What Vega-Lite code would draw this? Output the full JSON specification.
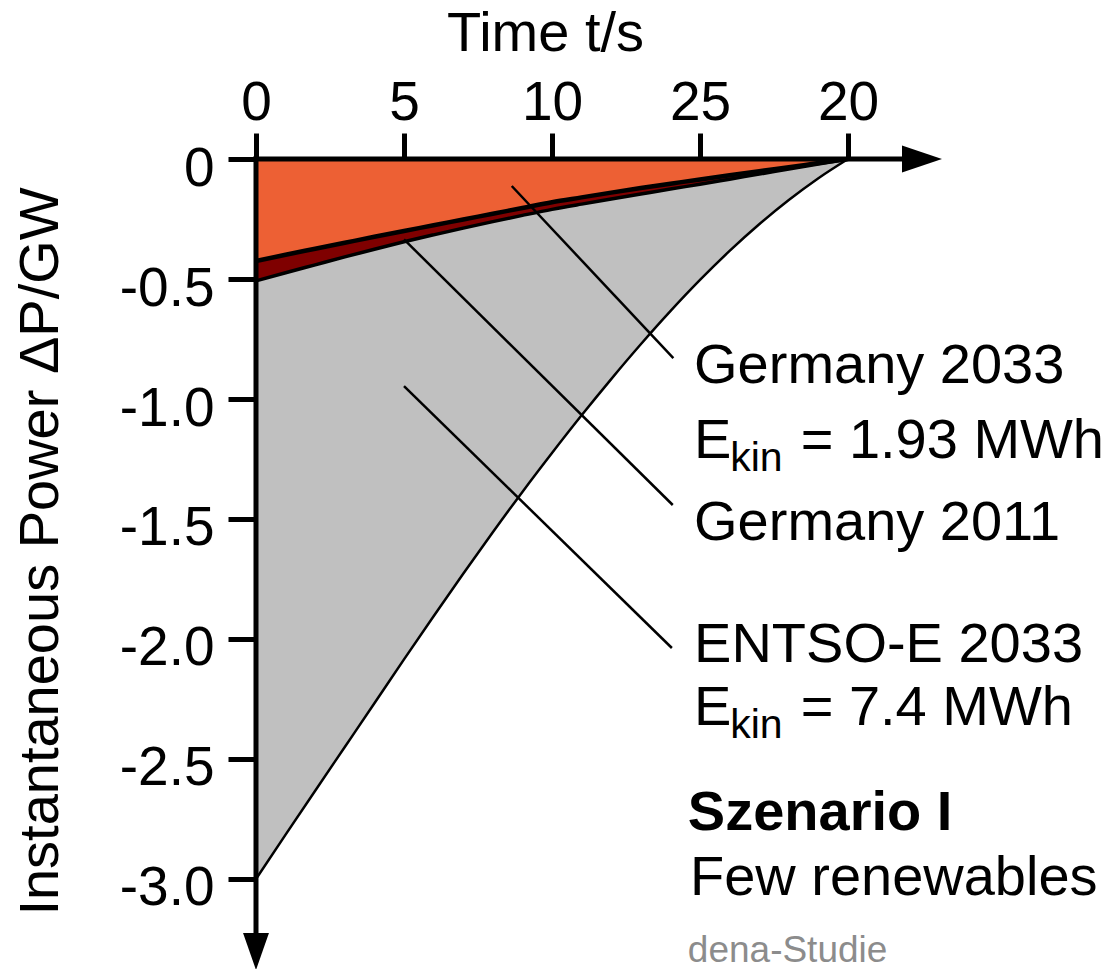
{
  "$schema": "https://vega.github.io/schema/vega-lite/v6.json",
  "width": 858.4,
  "height": 810,
  "autosize": {"type": "none"},
  "padding": {"left": 256, "top": 159, "right": 0, "bottom": 0},
  "background": "white",
  "config": {"view": {"stroke": null}, "font": "Liberation Sans"},
  "datasets": {
    "curves": [
      {"s": "ENTSO-E 2033", "t": 0, "P": -3.0}, {"s": "ENTSO-E 2033", "t": 1, "P": -2.815}, {"s": "ENTSO-E 2033", "t": 2, "P": -2.632},
      {"s": "ENTSO-E 2033", "t": 3, "P": -2.45}, {"s": "ENTSO-E 2033", "t": 4, "P": -2.268}, {"s": "ENTSO-E 2033", "t": 5, "P": -2.085},
      {"s": "ENTSO-E 2033", "t": 6, "P": -1.905}, {"s": "ENTSO-E 2033", "t": 7, "P": -1.728}, {"s": "ENTSO-E 2033", "t": 8, "P": -1.555},
      {"s": "ENTSO-E 2033", "t": 9, "P": -1.387}, {"s": "ENTSO-E 2033", "t": 10, "P": -1.225}, {"s": "ENTSO-E 2033", "t": 11, "P": -1.068},
      {"s": "ENTSO-E 2033", "t": 12, "P": -0.917}, {"s": "ENTSO-E 2033", "t": 13, "P": -0.772}, {"s": "ENTSO-E 2033", "t": 14, "P": -0.634},
      {"s": "ENTSO-E 2033", "t": 15, "P": -0.504}, {"s": "ENTSO-E 2033", "t": 16, "P": -0.383}, {"s": "ENTSO-E 2033", "t": 17, "P": -0.272},
      {"s": "ENTSO-E 2033", "t": 18, "P": -0.171}, {"s": "ENTSO-E 2033", "t": 19, "P": -0.08}, {"s": "ENTSO-E 2033", "t": 20, "P": 0},
      {"s": "Germany 2011", "t": 0, "P": -0.508}, {"s": "Germany 2011", "t": 1, "P": -0.474}, {"s": "Germany 2011", "t": 2, "P": -0.441},
      {"s": "Germany 2011", "t": 3, "P": -0.408}, {"s": "Germany 2011", "t": 4, "P": -0.376}, {"s": "Germany 2011", "t": 5, "P": -0.345},
      {"s": "Germany 2011", "t": 6, "P": -0.316}, {"s": "Germany 2011", "t": 7, "P": -0.288}, {"s": "Germany 2011", "t": 8, "P": -0.261},
      {"s": "Germany 2011", "t": 9, "P": -0.235}, {"s": "Germany 2011", "t": 10, "P": -0.21}, {"s": "Germany 2011", "t": 11, "P": -0.188},
      {"s": "Germany 2011", "t": 12, "P": -0.167}, {"s": "Germany 2011", "t": 13, "P": -0.146}, {"s": "Germany 2011", "t": 14, "P": -0.125},
      {"s": "Germany 2011", "t": 15, "P": -0.105}, {"s": "Germany 2011", "t": 16, "P": -0.084}, {"s": "Germany 2011", "t": 17, "P": -0.063},
      {"s": "Germany 2011", "t": 18, "P": -0.042}, {"s": "Germany 2011", "t": 19, "P": -0.021}, {"s": "Germany 2011", "t": 20, "P": 0},
      {"s": "Germany 2033", "t": 0, "P": -0.425}, {"s": "Germany 2033", "t": 1, "P": -0.399}, {"s": "Germany 2033", "t": 2, "P": -0.374},
      {"s": "Germany 2033", "t": 3, "P": -0.349}, {"s": "Germany 2033", "t": 4, "P": -0.324}, {"s": "Germany 2033", "t": 5, "P": -0.3},
      {"s": "Germany 2033", "t": 6, "P": -0.276}, {"s": "Germany 2033", "t": 7, "P": -0.252}, {"s": "Germany 2033", "t": 8, "P": -0.228},
      {"s": "Germany 2033", "t": 9, "P": -0.204}, {"s": "Germany 2033", "t": 10, "P": -0.18}, {"s": "Germany 2033", "t": 11, "P": -0.16},
      {"s": "Germany 2033", "t": 12, "P": -0.14}, {"s": "Germany 2033", "t": 13, "P": -0.121}, {"s": "Germany 2033", "t": 14, "P": -0.103},
      {"s": "Germany 2033", "t": 15, "P": -0.085}, {"s": "Germany 2033", "t": 16, "P": -0.068}, {"s": "Germany 2033", "t": 17, "P": -0.051},
      {"s": "Germany 2033", "t": 18, "P": -0.034}, {"s": "Germany 2033", "t": 19, "P": -0.017}, {"s": "Germany 2033", "t": 20, "P": 0}
    ],
    "pointers": [
      {"name": "Germany 2033", "t": 8.64, "P": -0.1125, "t2": 14.1, "P2": -0.83},
      {"name": "Germany 2011", "t": 5.0, "P": -0.335, "t2": 14.08, "P2": -1.4417},
      {"name": "ENTSO-E 2033", "t": 5.0, "P": -0.946, "t2": 14.05, "P2": -2.0375}
    ],
    "axislines": [
      {"axis": "x", "t": 0, "P": 0, "t2": 21.95, "P2": 0},
      {"axis": "y", "t": 0, "P": 0, "t2": 0, "P2": -3.24}
    ],
    "arrows": [
      {"axis": "x", "t": 22.5, "P": 0},
      {"axis": "y", "t": 0, "P": -3.302}
    ],
    "labels": [
      {"role": "main", "t": 14.8, "P": -0.9333, "label": "Germany 2033"},
      {"role": "main", "t": 14.8, "P": -1.2458, "label": "E"},
      {"role": "sub", "t": 16.02, "P": -1.2458, "label": "kin"},
      {"role": "main", "t": 18.4, "P": -1.2458, "label": "= 1.93 MWh"},
      {"role": "main", "t": 14.8, "P": -1.5875, "label": "Germany 2011"},
      {"role": "main", "t": 14.8, "P": -2.0958, "label": "ENTSO-E 2033"},
      {"role": "main", "t": 14.8, "P": -2.3583, "label": "E"},
      {"role": "sub", "t": 16.02, "P": -2.3583, "label": "kin"},
      {"role": "main", "t": 18.4, "P": -2.3583, "label": "= 7.4 MWh"},
      {"role": "bold", "t": 14.59, "P": -2.7958, "label": "Szenario I"},
      {"role": "main", "t": 14.66, "P": -3.0667, "label": "Few renewables"},
      {"role": "source", "t": 14.59, "P": -3.3458, "label": "dena-Studie"}
    ]
  },
  "encoding": {
    "x": {
      "field": "t", "type": "quantitative",
      "scale": {"domain": [0, 29], "nice": false, "zero": false},
      "axis": {
        "orient": "top", "values": [0, 5, 10, 15, 20],
        "labelExpr": "datum.value === 15 ? '25' : datum.label",
        "domain": false, "grid": false, "ticks": true, "tickSize": 26, "tickWidth": 5, "tickColor": "black",
        "labelFont": "Liberation Sans", "labelFontSize": 55, "labelColor": "black", "labelPadding": 14,
        "labelBaseline": "alphabetic", "labelFlush": false, "labelOverlap": false, "labelBound": false,
        "title": "Time t/s", "titleFont": "Liberation Sans", "titleFontSize": 56, "titleFontWeight": "normal", "titleColor": "black",
        "titleX": 289, "titleY": -109, "titleBaseline": "alphabetic", "titleAlign": "center", "titleAngle": 0
      }
    },
    "y": {
      "field": "P", "type": "quantitative",
      "scale": {"domain": [-3.375, 0], "nice": false, "zero": false},
      "axis": {
        "orient": "left", "values": [0, -0.5, -1, -1.5, -2, -2.5, -3],
        "labelExpr": "datum.value === 0 ? '0' : '-' + format(-datum.value, '.1f')",
        "domain": false, "grid": false, "ticks": true, "tickSize": 28, "tickWidth": 5, "tickColor": "black",
        "labelFont": "Liberation Sans", "labelFontSize": 55, "labelColor": "black", "labelPadding": 14,
        "labelBaseline": "alphabetic", "labelOffset": 26, "labelAlign": "right", "labelFlush": false, "labelOverlap": false, "labelBound": false,
        "title": "Instantaneous Power ΔP/GW", "titleFont": "Liberation Sans", "titleFontSize": 56, "titleFontWeight": "normal", "titleColor": "black",
        "titleX": -198, "titleY": 392, "titleAngle": -90, "titleBaseline": "alphabetic", "titleAlign": "center"
      }
    }
  },
  "layer": [
    {"data": {"name": "curves"}, "transform": [{"filter": "datum.s === 'ENTSO-E 2033'"}],
     "mark": {"type": "area", "interpolate": "monotone", "color": "#c0c0c0"}, "encoding": {"y2": {"datum": 0}}},
    {"data": {"name": "curves"}, "transform": [{"filter": "datum.s === 'Germany 2011'"}],
     "mark": {"type": "area", "interpolate": "monotone", "color": "#7f0000"}, "encoding": {"y2": {"datum": 0}}},
    {"data": {"name": "curves"}, "transform": [{"filter": "datum.s === 'Germany 2033'"}],
     "mark": {"type": "area", "interpolate": "monotone", "color": "#ed6034"}, "encoding": {"y2": {"datum": 0}}},
    {"data": {"name": "curves"}, "transform": [{"filter": "datum.s === 'ENTSO-E 2033'"}],
     "mark": {"type": "line", "interpolate": "monotone", "color": "black", "strokeWidth": 2.5}, "encoding": {}},
    {"data": {"name": "curves"}, "transform": [{"filter": "datum.s === 'Germany 2011'"}],
     "mark": {"type": "line", "interpolate": "monotone", "color": "black", "strokeWidth": 3.5}, "encoding": {}},
    {"data": {"name": "curves"}, "transform": [{"filter": "datum.s === 'Germany 2033'"}],
     "mark": {"type": "line", "interpolate": "monotone", "color": "black", "strokeWidth": 4.5}, "encoding": {}},
    {"data": {"name": "pointers"},
     "mark": {"type": "rule", "color": "black", "strokeWidth": 2.5},
     "encoding": {"x2": {"field": "t2"}, "y2": {"field": "P2"}}},
    {"data": {"name": "axislines"},
     "mark": {"type": "rule", "color": "black", "strokeWidth": 5, "strokeCap": "square"},
     "encoding": {"x2": {"field": "t2"}, "y2": {"field": "P2"}}},
    {"data": {"name": "arrows"}, "transform": [{"filter": "datum.axis === 'x'"}],
     "mark": {"type": "point", "shape": "M-1,-0.675L1,0L-1,0.675Z", "size": 1600, "filled": true, "color": "black", "opacity": 1, "strokeWidth": 0}},
    {"data": {"name": "arrows"}, "transform": [{"filter": "datum.axis === 'y'"}],
     "mark": {"type": "point", "shape": "M-0.7,-1L0.7,-1L0,1Z", "size": 1369, "filled": true, "color": "black", "opacity": 1, "strokeWidth": 0}},
    {"data": {"name": "labels"}, "transform": [{"filter": "datum.role === 'main'"}],
     "mark": {"type": "text", "align": "left", "baseline": "alphabetic", "fontSize": 56, "font": "Liberation Sans", "color": "black"},
     "encoding": {"text": {"field": "label"}}},
    {"data": {"name": "labels"}, "transform": [{"filter": "datum.role === 'sub'"}],
     "mark": {"type": "text", "align": "left", "baseline": "alphabetic", "fontSize": 41, "dy": 13, "font": "Liberation Sans", "color": "black"},
     "encoding": {"text": {"field": "label"}}},
    {"data": {"name": "labels"}, "transform": [{"filter": "datum.role === 'bold'"}],
     "mark": {"type": "text", "align": "left", "baseline": "alphabetic", "fontSize": 56, "fontWeight": "bold", "font": "Liberation Sans", "color": "black"},
     "encoding": {"text": {"field": "label"}}},
    {"data": {"name": "labels"}, "transform": [{"filter": "datum.role === 'source'"}],
     "mark": {"type": "text", "align": "left", "baseline": "alphabetic", "fontSize": 37, "font": "Liberation Sans", "color": "#8c8c8c"},
     "encoding": {"text": {"field": "label"}}}
  ]
}
